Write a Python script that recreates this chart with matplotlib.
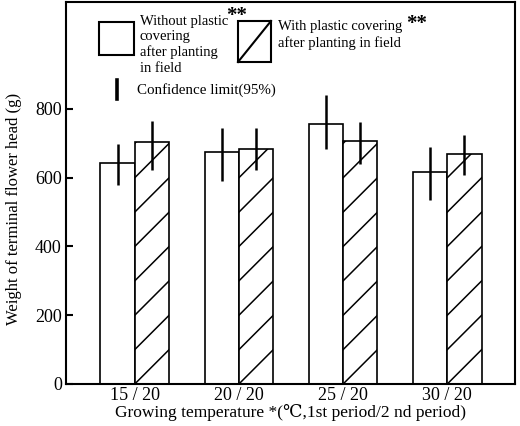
import numpy as np
import matplotlib
matplotlib.use('Agg')
from matplotlib import pyplot as plt
from matplotlib.patches import Rectangle
from matplotlib.lines import Line2D

plt.rcParams['font.family'] = ['Liberation Serif', 'DejaVu Serif']

temps = ['15 / 20', '20 / 20', '25 / 20', '30 / 20']
without_cover = [642, 674, 756, 616]
without_lo = [579, 591, 683, 535]
without_hi = [697, 744, 841, 689]
with_cover = [703, 684, 705, 668]
with_lo = [621, 623, 640, 608]
with_hi = [763, 744, 762, 724]

W, H = 520, 426
fig = plt.figure(figsize=(W / 100, H / 100), dpi=100)
ax = fig.add_subplot(111)
fig.subplots_adjust(left=66 / W, right=515 / W, top=1 - 2 / H, bottom=1 - 384 / H)

# pixel (from top-left) -> figure fraction
def px(x, y):
    return x / W, 1 - y / H

x = np.arange(len(temps))
bw = 0.33
ax.set_xlim(-0.66, 3.65)
ax.set_ylim(0, 1110)

b1 = ax.bar(x - bw / 2, without_cover, bw, color='white', edgecolor='black', lw=1.2, zorder=2)
b2 = ax.bar(x + bw / 2, with_cover, bw, color='white', edgecolor='black', lw=1.2, zorder=2)

# sparse diagonal hatch, one line per bar width
tr = ax.transData
for bar in b2:
    (x0, y0) = tr.transform((bar.get_x(), 0))
    (x1, y1) = tr.transform((bar.get_x() + bar.get_width(), bar.get_height()))
    step = x1 - x0
    k = 0
    while y0 + k * step < y1:
        p = tr.inverted().transform([(x0, y0 + k * step), (x1, y0 + (k + 1) * step)])
        ln, = ax.plot(p[:, 0], p[:, 1], color='black', lw=1.1, zorder=3)
        ln.set_clip_path(bar)
        k += 1

ax.vlines(x - bw / 2, without_lo, without_hi, color='black', lw=1.8, zorder=4)
ax.vlines(x + bw / 2, with_lo, with_hi, color='black', lw=1.8, zorder=4)

ax.set_yticks([0, 200, 400, 600, 800])
ax.set_xticks(x)
ax.set_xticklabels(temps)
ax.tick_params(axis='y', direction='in', length=5, width=1.5, labelsize=13, pad=3)
ax.tick_params(axis='x', length=0, labelsize=13, pad=2)
for s in ax.spines.values():
    s.set_linewidth(1.5)

ax.set_ylabel('Weight of terminal flower head (g)', fontsize=12)
ax.yaxis.set_label_coords(-0.098, (384 - 210) / 379)
ax.set_xlabel('Growing temperature *(\u2103,1st period/2 nd period)', fontsize=12.5, labelpad=0)

# legend drawn by hand
def box(xa, ya, xb, yb):
    (fx0, fy1) = px(xa, ya)
    (fx1, fy0) = px(xb, yb)
    r = Rectangle((fx0, fy0), fx1 - fx0, fy1 - fy0, transform=fig.transFigure,
                  facecolor='white', edgecolor='black', lw=1.5)
    fig.add_artist(r)
    return fx0, fy0, fx1, fy1

box(99, 22, 134, 55)
fx0, fy0, fx1, fy1 = box(238, 21, 271, 62)
fig.add_artist(Line2D([fx0, fx1], [fy0, fy1], transform=fig.transFigure, color='black', lw=1.5))

fig.text(*px(140, 15), 'Without plastic\ncovering\nafter planting\nin field', fontsize=10.5,
         va='top', ha='left', linespacing=1.22)
fig.text(*px(226, 16), '**', fontsize=15, fontweight='bold', va='center', ha='left')
fig.text(*px(278, 20), 'With plastic covering', fontsize=10.5, va='top', ha='left')
fig.text(*px(278, 36), 'after planting in field', fontsize=10.5, va='top', ha='left')
fig.text(*px(406, 24), '**', fontsize=15, fontweight='bold', va='center', ha='left')

cx, cy0 = px(117, 80)
_, cy1 = px(117, 99)
fig.add_artist(Line2D([cx, cx], [cy0, cy1], transform=fig.transFigure, color='black', lw=2.6))
fig.text(*px(137, 90), 'Confidence limit(95%)', fontsize=10.8, va='center', ha='left')

fig.savefig('out.png', dpi=100)
